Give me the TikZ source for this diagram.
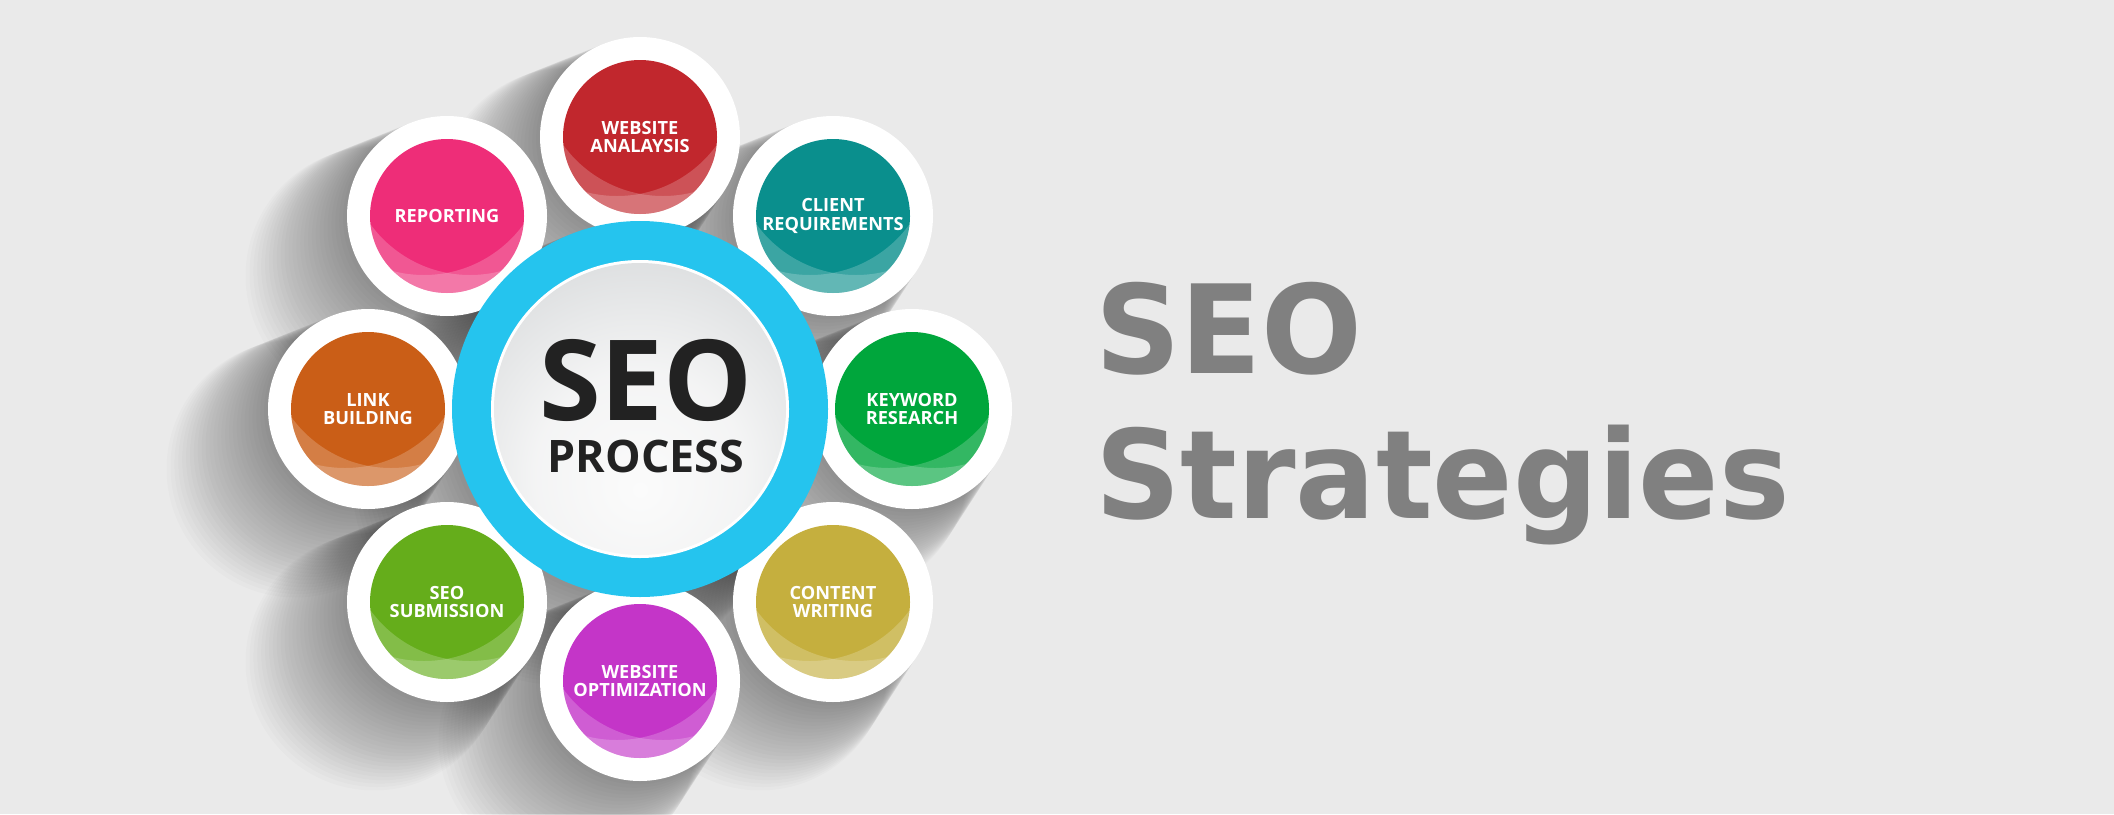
\documentclass[tikz,border=0pt]{standalone}
\usepackage{fontspec}
\setmainfont{Open Sans}
\newfontfamily\titlefont{DejaVu Sans}

\definecolor{paper}{HTML}{EAEAEA}
\definecolor{ringblue}{HTML}{25C4EE}
\definecolor{ink}{HTML}{222222}
\definecolor{titlegrey}{HTML}{808080}
\definecolor{disclight}{HTML}{FBFBFB}
\definecolor{discedge}{HTML}{CACDCF}
\definecolor{analysisred}{HTML}{C1272D}
\definecolor{clientteal}{HTML}{0A8F8D}
\definecolor{keywordgreen}{HTML}{00A63C}
\definecolor{contentolive}{HTML}{C5AF3E}
\definecolor{optimviolet}{HTML}{C435C8}
\definecolor{submitgreen}{HTML}{65AD1B}
\definecolor{linkorange}{HTML}{CA5E17}
\definecolor{reportpink}{HTML}{EE2D78}

\pgfdeclareradialshading{discglow}{\pgfpoint{0bp}{-14bp}}{color(0bp)=(disclight); color(18bp)=(disclight!85!discedge); color(50bp)=(discedge); color(100bp)=(discedge)}

\tikzset{
  spot/.style={circle, minimum size=154pt, inner sep=0pt, text=white, align=center,
    font=\bfseries\fontsize{18.2}{18.5}\selectfont},
  titletext/.style={font=\titlefont\bfseries\fontsize{123}{123}\selectfont, text=titlegrey,
    anchor=base west, inner sep=0pt, xscale=.965},
}

% lighter lens shapes on the lower half of a spot
\newcommand\spotshine[1]{%
  \begin{scope}
    \clip (#1) circle (77);
    \fill[white,opacity=.2,even odd rule] (#1) circle (80) ([shift={(23,-64)}]#1) circle (123);
    \fill[white,opacity=.2,even odd rule] (#1) circle (80) ([shift={(-23,-64)}]#1) circle (123);
  \end{scope}}

\begin{document}
\begin{tikzpicture}[x=1pt,y=-1pt]
\useasboundingbox[fill=paper] (0,0) rectangle (2114,814);
\coordinate (hub) at (640,409);

% soft shadows, falling down and left
\foreach \sx/\sy/\sr in {640/409/188, 640/137/100, 833/216/100, 912/409/100, 833/602/100,
                         640/681/100, 447/602/100, 368/409/100, 447/216/100}
  \foreach \k in {1,...,26}
    \fill[black,opacity=.014] (\sx-2.8*\k,\sy+2.3*\k) circle (\sr+1.1*\k);

% white rims
\foreach \sx/\sy in {640/137, 833/216, 912/409, 833/602, 640/681, 447/602, 368/409, 447/216}
  \fill[white] (\sx,\sy) circle (100);

% centre disc
\fill[ringblue] (hub) circle (188);
\fill[white] (hub) circle (149);
\shade[shading=discglow] (hub) circle (146);
\node[font=\bfseries\fontsize{44.8}{52}\selectfont, text=ink, align=center, inner sep=0pt, anchor=south]
  (hubtext) at (646,473) {{\fontsize{112}{52}\selectfont SEO}\\PROCESS};

% the eight steps
\node[spot, fill=analysisred] (analysis) at (640,137) {WEBSITE\\ANALAYSIS};
\spotshine{analysis}
\node[spot, fill=clientteal] (client) at (833,216) {CLIENT\\REQUIREMENTS};
\spotshine{client}
\node[spot, fill=keywordgreen] (keyword) at (912,409) {KEYWORD\\RESEARCH};
\spotshine{keyword}
\node[spot, fill=contentolive] (content) at (833,602) {CONTENT\\WRITING};
\spotshine{content}
\node[spot, fill=optimviolet] (optim) at (640,681) {WEBSITE\\OPTIMIZATION};
\spotshine{optim}
\node[spot, fill=submitgreen] (submit) at (447,602) {SEO\\SUBMISSION};
\spotshine{submit}
\node[spot, fill=linkorange] (link) at (368,409) {LINK\\BUILDING};
\spotshine{link}
\node[spot, fill=reportpink] (report) at (447,216) {REPORTING};
\spotshine{report}

% title
\node[titletext] (title1) at (1095,373) {SEO};
\node[titletext] (title2) at (1095,518) {Strategies};
\end{tikzpicture}
\end{document}
